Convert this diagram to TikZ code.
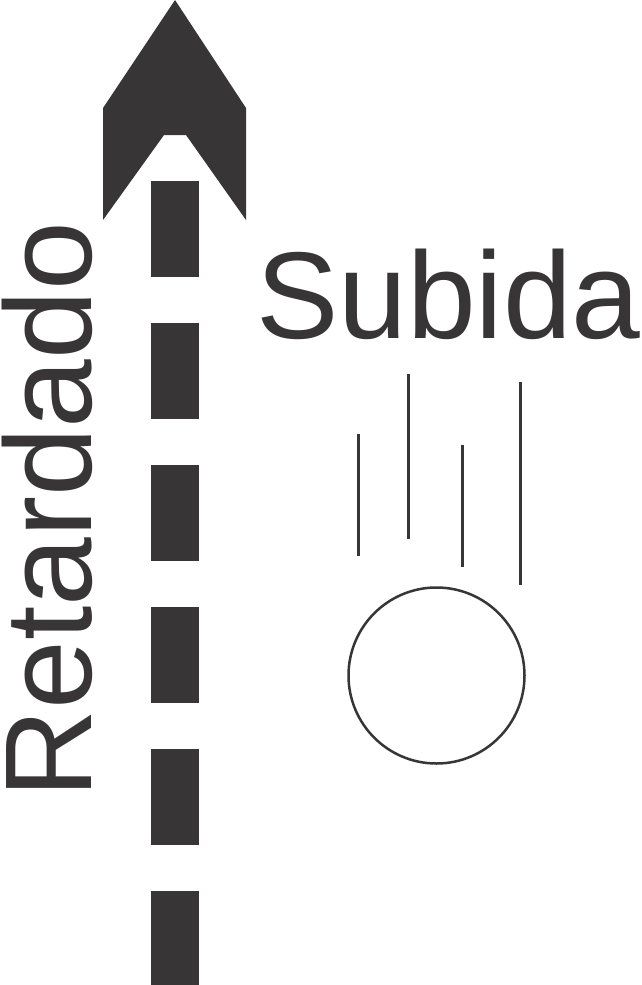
\documentclass[tikz,border=0pt]{standalone}
\usepackage{fontspec}
\setmainfont{Liberation Sans}
\usepackage{tikz}
\usetikzlibrary{positioning}
\definecolor{inkgray}{RGB}{55,53,54}

\begin{document}
\begin{tikzpicture}[x=1pt,y=-1pt,
   lbl/.style={text=inkgray,inner sep=0pt,font=\fontsize{123.5}{124}\selectfont},
   trail/.style={draw=inkgray,dash pattern=on 96pt off 46pt,line width=48pt},
   streak/.style={draw=inkgray,line width=3pt},
   ball/.style={draw=inkgray,circle,line width=2.5pt,minimum size=176pt,inner sep=0pt}]
\useasboundingbox (0,0) rectangle (642,985);

% arrow head
\fill[inkgray] (175,0) -- (246,108) -- (246,220) -- (186,135) -- (164,135)
   -- (103,220) -- (103,108) -- cycle;

% dashed shaft
\coordinate (top) at (175,181);
\coordinate (bot) at (175,985);
\draw[trail] (top) -- (bot);

% labels
\node[lbl,rotate=90,anchor=base west] (ret) at (91,799) {Retardado};
\node[lbl,anchor=base west] (sub) at (256,338) {Subida};

% falling ball
\node[ball] (ball) at (436.5,675.5) {};
\foreach \x/\a/\b in {358/434/556, 408/374/539, 462/445/567, 520/382/585}
   \draw[streak] (\x,\a) -- (\x,\b);
\end{tikzpicture}
\end{document}
